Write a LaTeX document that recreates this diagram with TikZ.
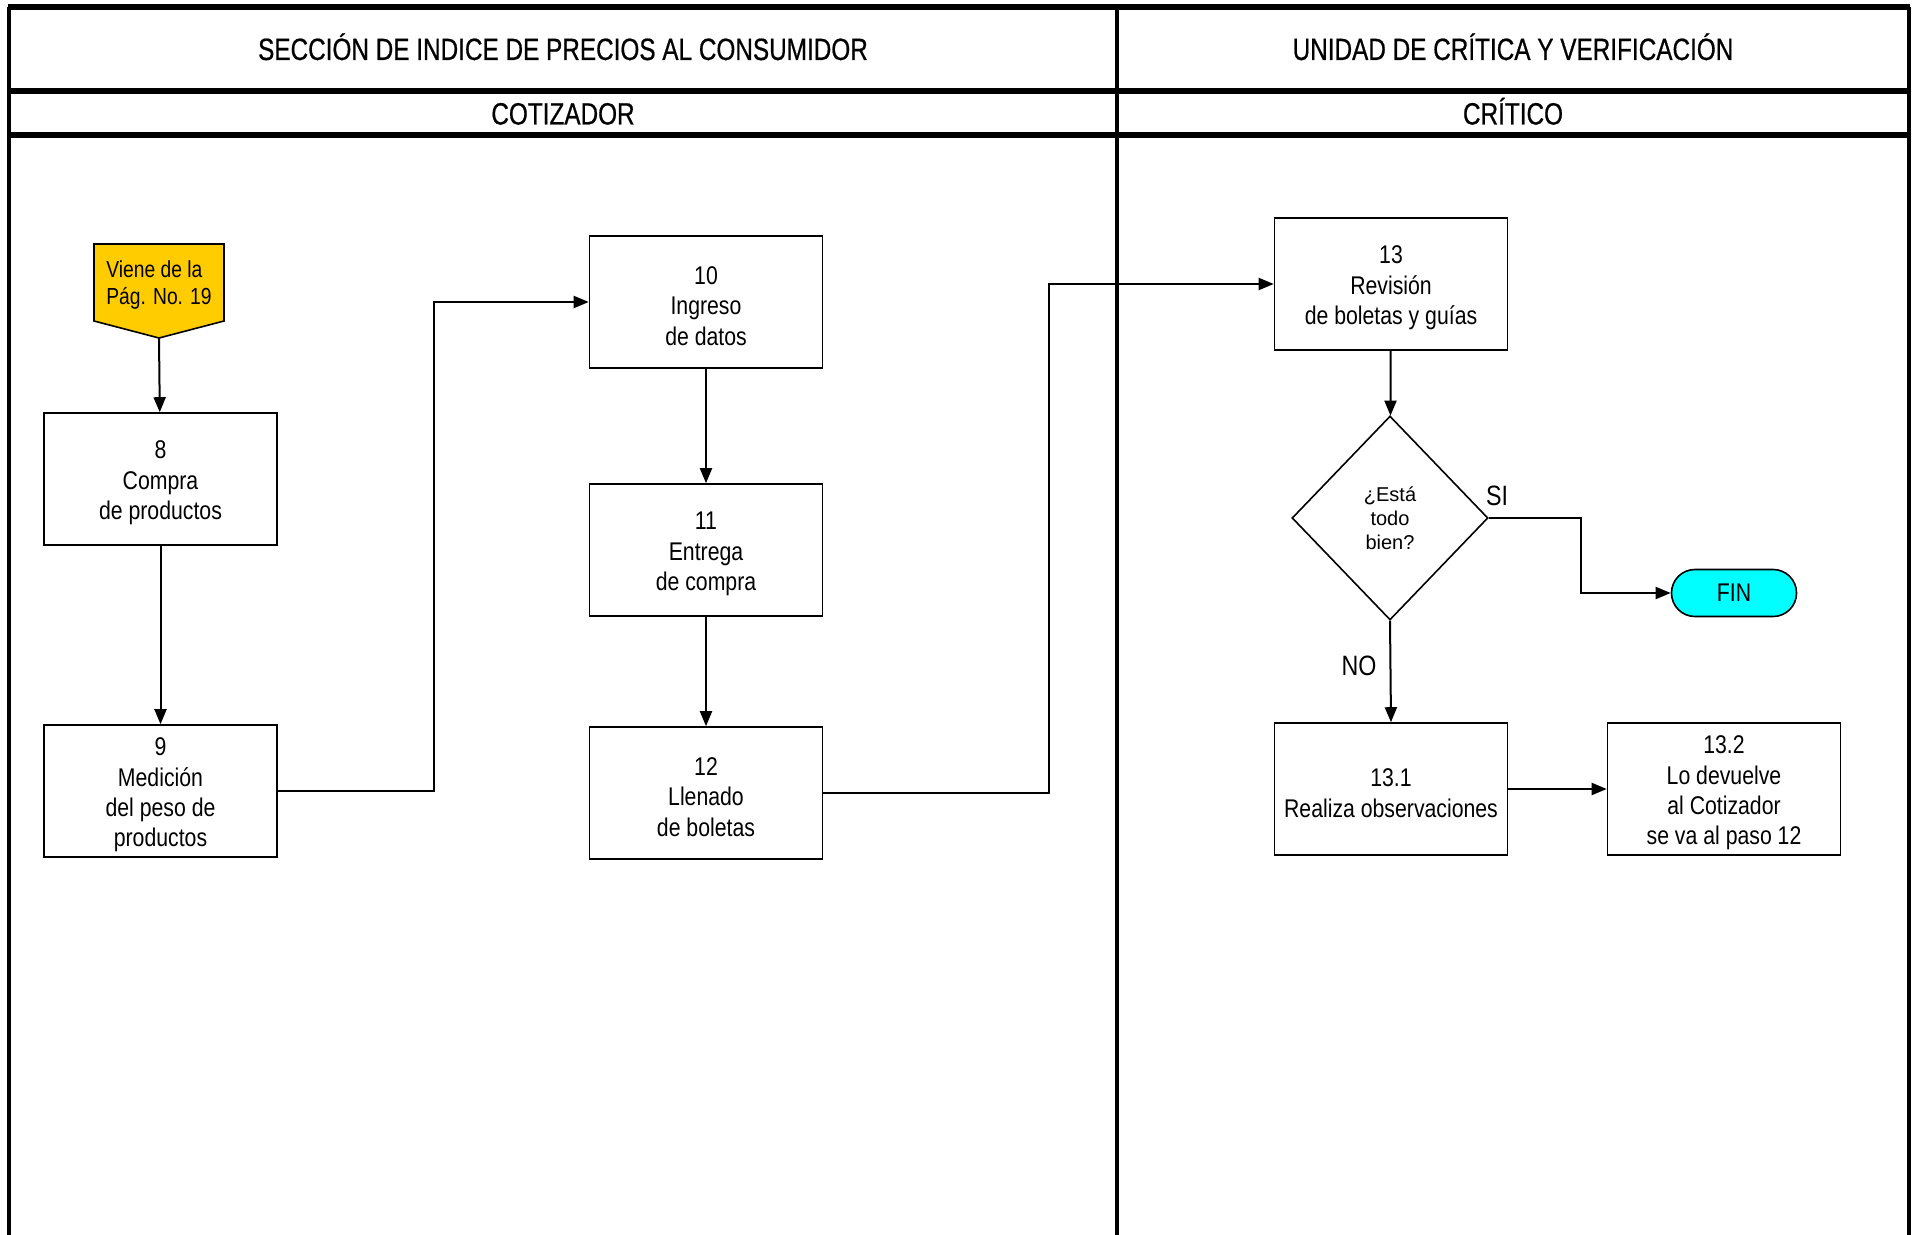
\documentclass[tikz,border=0pt]{standalone}
\usepackage{fontspec}
\setmainfont{Liberation Sans}
\newfontfamily\boxfont[FakeStretch=0.83]{Liberation Sans}
\newfontfamily\headfont[FakeStretch=0.79,FakeBold=0.6]{Liberation Sans}
\usetikzlibrary{shapes.geometric,arrows.meta}
\definecolor{vieneyellow}{HTML}{FFCC00}
\definecolor{fincyan}{HTML}{00FFFF}

\begin{document}
\begin{tikzpicture}[
    x=0.5pt, y=-0.5pt,
    frame/.style={line width=2.6pt},
    laneline/.style={line width=1.8pt},
    headtext/.style={font=\headfont\fontsize{15.4}{18}\selectfont, text height=11pt, text depth=0pt},
    boxtext/.style={align=center, inner sep=0pt, yshift=-2pt, font=\boxfont\fontsize{12.8}{15.2}\selectfont},
    procbox/.style={rectangle, draw, line width=0.8pt, minimum width=116.5pt, minimum height=66pt, label={[boxtext]center:#1}},
    decision/.style={diamond, draw, line width=0.8pt, minimum width=98pt, minimum height=102pt, inner sep=0pt, align=center, font=\fontsize{10}{12}\selectfont},
    finnode/.style={rectangle, draw, line width=0.8pt, fill=fincyan, rounded corners=11.7pt, minimum width=62.5pt, minimum height=23.5pt, font=\boxfont\fontsize{12.8}{15}\selectfont},
    vienetext/.style={align=left, inner sep=0pt, font=\boxfont\fontsize{11.6}{13.5}\selectfont},
    tag/.style={font=\boxfont\fontsize{14}{16}\selectfont},
    flow/.style={line width=1pt, -{Triangle[length=7.5pt,width=6pt]}}
]
    \useasboundingbox (0,0) rectangle (1920,1235);

    % swimlane frame
    \draw[laneline] (9,7) -- (9,1235);
    \draw[laneline] (1117,7) -- (1117,1235);
    \draw[laneline] (1909,7) -- (1909,1235);
    \draw[frame] (8,7) -- (1910,7);
    \draw[frame] (8,91) -- (1910,91);
    \draw[frame] (8,135) -- (1910,135);

    \node[headtext] (seccion) at (563,49) {SECCIÓN DE INDICE DE PRECIOS AL CONSUMIDOR};
    \node[headtext] (unidad) at (1513,49) {UNIDAD DE CRÍTICA Y VERIFICACIÓN};
    \node[headtext] (cotizador) at (563,113.5) {COTIZADOR};
    \node[headtext] (critico) at (1513,113.5) {CRÍTICO};

    % off-page connector
    \filldraw[fill=vieneyellow, line width=0.8pt] (94,244) -- (224,244) -- (224,321) -- (159,338) -- (94,321) -- cycle;
    \node[vienetext] (viene) at (159,285) {Viene de la\\Pág. No. 19};
    \coordinate (vienetip) at (159,338);

    % steps
    \node[procbox={8\\Compra\\de productos}] (p8) at (160.5,479) {};
    \node[procbox={9\\Medición\\del peso de\\productos}] (p9) at (160.5,791) {};
    \node[procbox={10\\Ingreso\\de datos}] (p10) at (706,302) {};
    \node[procbox={11\\Entrega\\de compra}] (p11) at (706,550) {};
    \node[procbox={12\\Llenado\\de boletas}] (p12) at (706,793) {};
    \node[procbox={13\\Revisión\\de boletas y guías}] (p13) at (1391,284) {};
    \node[decision] (check) at (1390,518) {¿Está\\todo\\bien?};
    \node[finnode] (fin) at (1734,593) {FIN};
    \node[procbox={13.1\\Realiza observaciones}] (p131) at (1391,789) {};
    \node[procbox={13.2\\Lo devuelve\\al Cotizador\\se va al paso 12}] (p132) at (1724,789) {};

    \node[tag] (si) at (1497,496) {SI};
    \node[tag] (no) at (1359,666) {NO};

    % connectors
    \draw[flow] (vienetip) -- (p8);
    \draw[flow] (p8) -- (p9);
    \draw[flow] (p9.east) -- ++(156,0) |- (p10.west);
    \draw[flow] (p10) -- (p11);
    \draw[flow] (p11) -- (p12);
    \draw[flow] (p12.east) -- ++(226,0) |- (p13.west);
    \draw[flow] (p13) -- (check);
    \draw[flow] (check.east) -- ++(92,0) |- (fin.west);
    \draw[flow] (check.south) -- (p131.north);
    \draw[flow] (p131) -- (p132);
\end{tikzpicture}
\end{document}
